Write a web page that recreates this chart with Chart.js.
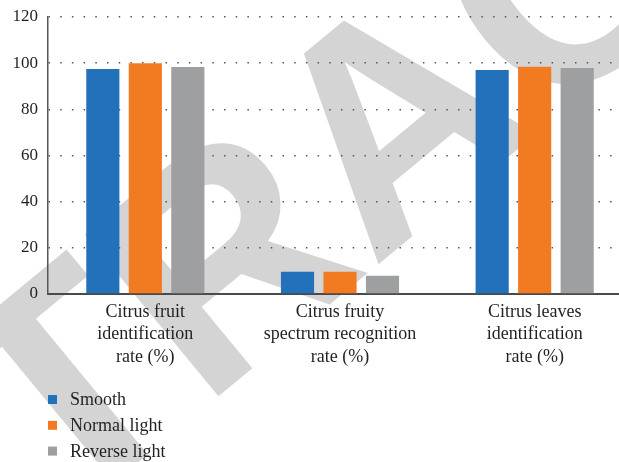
<!DOCTYPE html>
<html><head><meta charset="utf-8">
<script src="https://cdn.jsdelivr.net/npm/chart.js@4/dist/chart.umd.min.js"></script>
<style>html,body{margin:0;padding:0;overflow:hidden;background:#fff}#wrap{width:632px;height:462px}</style>
</head><body><div id="wrap"><canvas id="c" width="632" height="462"></canvas></div>
<script>
const categories = [
  ['Citrus fruit', 'identification', 'rate (%)'],
  ['Citrus fruity', 'spectrum recognition', 'rate (%)'],
  ['Citrus leaves', 'identification', 'rate (%)']
];
const seriesNames = ['Smooth', 'Normal light', 'Reverse light'];
const smooth = [97.5, 9.6, 97.0];
const normalLight = [100.0, 9.6, 98.5];
const reverseLight = [98.3, 7.9, 97.9];
const yTicks = [0, 20, 40, 60, 80, 100, 120];
const colors = ['#2371ba', '#f27b22', '#9d9fa0'];
const watermarkText = 'RETRACTED';

const serif = '"Liberation Serif", "DejaVu Serif", serif';

const watermark = {
  id: 'watermark',
  beforeDraw(chart) {
    const ctx = chart.ctx;
    ctx.save();
    ctx.fillStyle = '#d4d4d4';
    ctx.font = 'bold 305px "Liberation Sans", Arial, sans-serif';
    ctx.textAlign = 'center';
    ctx.textBaseline = 'middle';
    ctx.translate(404, 134);
    ctx.rotate(-0.69);
    ctx.fillText(watermarkText, 0, 0);
    ctx.restore();
  }
};

const vLegend = {
  id: 'vLegend',
  afterDraw(chart) {
    const ctx = chart.ctx;
    ctx.save();
    ctx.font = '18px ' + serif;
    ctx.textBaseline = 'middle';
    chart.data.datasets.forEach((ds, i) => {
      const y = 399.5 + i * 25.8;
      ctx.fillStyle = ds.backgroundColor;
      ctx.fillRect(48, y - 4.5, 9, 9);
      ctx.fillStyle = '#231f20';
      ctx.fillText(ds.label, 70, y + 1);
    });
    ctx.restore();
  }
};

new Chart(document.getElementById('c'), {
  type: 'bar',
  data: {
    labels: categories,
    datasets: [
      { label: seriesNames[0], data: smooth, backgroundColor: colors[0] },
      { label: seriesNames[1], data: normalLight, backgroundColor: colors[1] },
      { label: seriesNames[2], data: reverseLight, backgroundColor: colors[2] }
    ]
  },
  options: {
    responsive: false,
    animation: false,
    events: [],
    layout: { padding: { top: 17, right: 0, bottom: 93, left: 0 } },
    datasets: { bar: { barPercentage: 0.78, categoryPercentage: 0.655 } },
    plugins: { legend: { display: false }, tooltip: { enabled: false } },
    scales: {
      x: {
        grid: { display: false, drawTicks: false },
        border: { display: true, color: '#4a4a4a', width: 2 },
        ticks: { color: '#231f20', font: { family: serif, size: 18, lineHeight: 1.24 }, padding: 7, maxRotation: 0, autoSkip: false },
        afterFit(s) { s.height = 75; s.paddingLeft = 0; s.paddingRight = 0; }
      },
      y: {
        min: 0, max: 120,
        afterBuildTicks(s) { s.ticks = yTicks.map(v => ({ value: v })); },
        grid: {
          drawTicks: false,
          color: c => c.tick && c.tick.value === 0 ? 'rgba(0,0,0,0)' : '#555',
          lineWidth: 1.5
        },
        border: { display: true, color: '#555', width: 1.5, dash: [1.5, 10.2] },
        ticks: { color: '#231f20', font: { family: serif, size: 17 }, padding: 10 },
        afterFit(s) { s.width = 48; s.paddingTop = 0; s.paddingBottom = 0; }
      }
    }
  },
  plugins: [watermark, vLegend]
});
</script>
</body></html>
